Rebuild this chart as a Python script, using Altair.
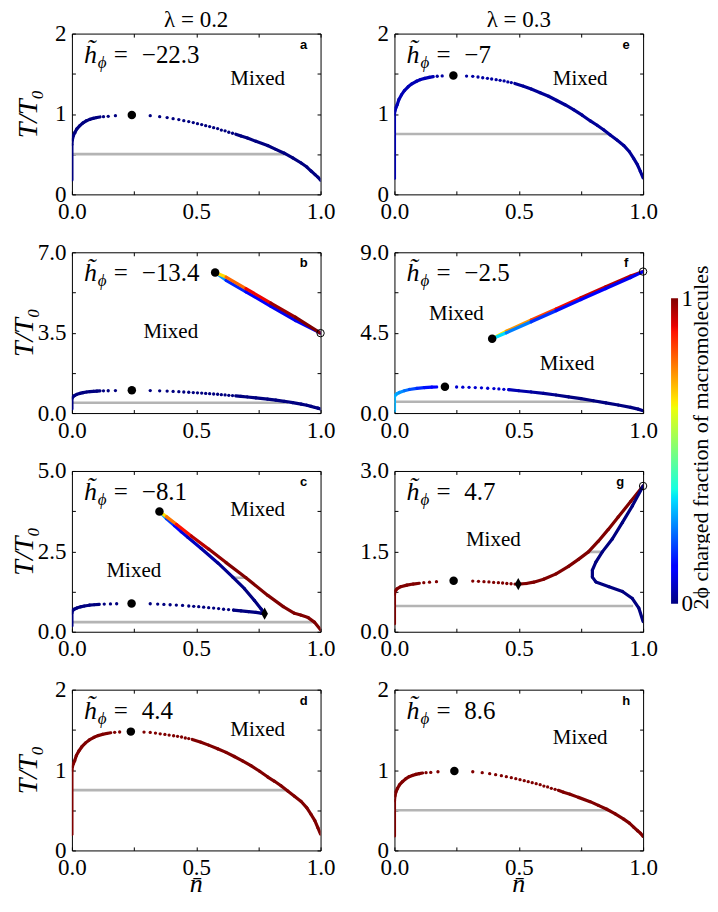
import json
import altair as alt
import pandas as pd

SERIF = "Liberation Serif, DejaVu Serif, serif"
SANS = "Liberation Sans, DejaVu Sans, sans-serif"

# ---------------- tick values ----------------
X_TICKS = [0.0, 0.25, 0.5, 0.75, 1.0]
X_LABELED = [0.0, 0.5, 1.0]
Y2_TICKS = [0.0, 0.5, 1.0, 1.5, 2.0]
Y2_LABELED = [0.0, 1.0, 2.0]
Y7_TICKS = [0.0, 1.75, 3.5, 5.25, 7.0]
Y7_LABELED = [0.0, 3.5, 7.0]
Y5_TICKS = [0.0, 1.25, 2.5, 3.75, 5.0]
Y5_LABELED = [0.0, 2.5, 5.0]
Y9_TICKS = [0.0, 2.25, 4.5, 6.75, 9.0]
Y9_LABELED = [0.0, 4.5, 9.0]
Y3_TICKS = [0.0, 0.75, 1.5, 2.25, 3.0]
Y3_LABELED = [0.0, 1.5, 3.0]

# ---------------- jet colour map ----------------
JET_POS = [0.0, 0.11, 0.125, 0.34, 0.35, 0.375, 0.64, 0.65, 0.66, 0.89, 0.91, 1.0]
JET_HEX = ["#000080", "#0000ff", "#0000ff", "#00dbff", "#00e6f7", "#15ffe2",
           "#eeff08", "#f7f500", "#ffec00", "#ff1300", "#e80000", "#800000"]

# ---------------- curve A (panels a, b, h) ----------------
A_L_N = [0.0, 0.0, 0.002, 0.006, 0.012, 0.02, 0.032, 0.045, 0.059, 0.072, 0.086, 0.1, 0.113]
A_L_T = [0.18, 0.62, 0.68, 0.73, 0.77, 0.815, 0.855, 0.89, 0.917, 0.933, 0.946, 0.956, 0.963]
A_DOT_N = [0.127, 0.146, 0.175, 0.315, 0.353, 0.383, 0.407, 0.43, 0.45, 0.47, 0.488, 0.505,
           0.522, 0.538, 0.554, 0.57, 0.586, 0.601, 0.616, 0.631, 0.646]
A_DOT_T = [0.967, 0.971, 0.979, 0.979, 0.967, 0.955, 0.942, 0.93, 0.917, 0.905, 0.893, 0.88,
           0.868, 0.855, 0.843, 0.83, 0.818, 0.80, 0.79, 0.773, 0.76]
A_R_N = [0.659, 0.68, 0.706, 0.74, 0.787, 0.82, 0.854, 0.888, 0.922, 0.945, 0.962, 0.978, 0.989, 1.0]
A_R_T = [0.748, 0.725, 0.70, 0.66, 0.607, 0.56, 0.512, 0.455, 0.39, 0.34, 0.29, 0.245, 0.215, 0.175]
A_CRIT = (0.241, 0.988)

# ---------------- curve D (panels d, e) ----------------
D_L_N = [0.0, 0.0, 0.002, 0.006, 0.011, 0.018, 0.028, 0.04, 0.055, 0.07, 0.089, 0.105, 0.122, 0.14, 0.156]
D_L_T = [0.2, 1.0, 1.04, 1.08, 1.115, 1.18, 1.237, 1.29, 1.338, 1.375, 1.407, 1.428, 1.443, 1.455, 1.464]
D_DOT_N = [0.172, 0.192, 0.29, 0.315, 0.336, 0.355, 0.374, 0.391, 0.409, 0.425, 0.441, 0.456, 0.47]
D_DOT_T = [1.469, 1.473, 1.472, 1.468, 1.46, 1.451, 1.443, 1.435, 1.427, 1.419, 1.411, 1.399, 1.391]
D_R_N = [0.484, 0.519, 0.55, 0.586, 0.62, 0.653, 0.686, 0.72, 0.755, 0.788, 0.815, 0.841, 0.868,
         0.895, 0.922, 0.945, 0.962, 0.977, 0.989, 1.0]
D_R_T = [1.38, 1.346, 1.31, 1.265, 1.22, 1.168, 1.115, 1.055, 0.985, 0.913, 0.86, 0.804, 0.739,
         0.675, 0.609, 0.53, 0.447, 0.37, 0.285, 0.204]
D_CRIT = (0.237, 1.478)

# ---------------- panel b extra branch ----------------
B_BLUE_N = [0.576, 0.62, 0.7, 0.8, 0.9, 1.0]
B_BLUE_T = [6.12, 5.78, 5.28, 4.65, 4.03, 3.48]
B_BLUE_C = [0.35, 0.2, 0.12, 0.1, 0.1, 0.1]
B_RED_N = [0.576, 0.62, 0.7, 0.8, 0.9, 1.0]
B_RED_T = [6.12, 5.92, 5.42, 4.79, 4.17, 3.48]
B_RED_C = [0.62, 0.74, 0.86, 0.95, 1.0, 1.0]
B_CRIT = (0.576, 6.12)
B_OPEN = (1.0, 3.48)

# ---------------- panel c ----------------
C_L_N = [0.0, 0.0, 0.003, 0.009, 0.02, 0.035, 0.05, 0.07, 0.09, 0.11]
C_L_T = [0.19, 0.58, 0.66, 0.70, 0.74, 0.775, 0.80, 0.825, 0.84, 0.85]
C_DOT_N = [0.13, 0.155, 0.18, 0.315, 0.345, 0.37, 0.395, 0.42, 0.445, 0.47, 0.49, 0.51, 0.53,
           0.55, 0.57, 0.59, 0.61, 0.63, 0.65]
C_DOT_T = [0.86, 0.865, 0.87, 0.87, 0.86, 0.85, 0.84, 0.83, 0.82, 0.80, 0.79, 0.78, 0.765,
           0.75, 0.735, 0.72, 0.70, 0.69, 0.675]
C_R_N = [0.65, 0.68, 0.71, 0.74, 0.76, 0.775]
C_R_T = [0.675, 0.65, 0.625, 0.60, 0.58, 0.56]
C_CRIT = (0.24, 0.88)
C_DIAM = (0.775, 0.56)
C_BLUE_N = [0.352, 0.38, 0.412, 0.44, 0.466, 0.52, 0.587, 0.647, 0.694, 0.734, 0.761, 0.775]
C_BLUE_T = [3.74, 3.52, 3.30, 3.11, 2.94, 2.59, 2.14, 1.70, 1.34, 0.97, 0.71, 0.56]
C_BLUE_C = [0.32, 0.22, 0.14, 0.1, 0.07, 0.04, 0.02, 0.01, 0.0, 0.0, 0.0, 0.0]
C_RED_N = [0.352, 0.38, 0.42, 0.48, 0.55, 0.62, 0.70, 0.788, 0.85, 0.895, 0.92, 0.95, 0.975, 1.0]
C_RED_T = [3.74, 3.58, 3.34, 2.98, 2.57, 2.15, 1.68, 1.13, 0.78, 0.575, 0.52, 0.44, 0.30, 0.06]
C_RED_C = [0.62, 0.72, 0.85, 0.93, 0.97, 1.0, 1.0, 1.0, 1.0, 1.0, 1.0, 1.0, 1.0, 1.0]
C_CRIT2 = (0.352, 3.74)

# ---------------- panel f ----------------
F_L_N = [0.0, 0.0, 0.003, 0.01, 0.02, 0.04, 0.06, 0.09, 0.12, 0.15, 0.17]
F_L_T = [0.12, 0.9, 1.0, 1.08, 1.15, 1.25, 1.32, 1.38, 1.42, 1.45, 1.46]
F_L_C = [0.3, 0.3, 0.3, 0.29, 0.28, 0.25, 0.22, 0.18, 0.15, 0.13, 0.12]
F_DOT_N = [0.25, 0.275, 0.3, 0.325, 0.35, 0.375, 0.4, 0.42, 0.44, 0.46]
F_DOT_T = [1.46, 1.45, 1.44, 1.425, 1.41, 1.39, 1.37, 1.35, 1.33, 1.31]
F_R_N = [0.46, 0.5, 0.55, 0.6, 0.65, 0.7, 0.75, 0.8, 0.85, 0.9, 0.95, 0.98, 1.0]
F_R_T = [1.31, 1.25, 1.18, 1.10, 1.01, 0.91, 0.81, 0.69, 0.57, 0.45, 0.32, 0.22, 0.13]
F_R_C = [0.05, 0.04, 0.03, 0.02, 0.01, 0.0, 0.0, 0.0, 0.0, 0.0, 0.0, 0.0, 0.0]
F_CRIT = (0.203, 1.47)
F_TOP_N = [0.393, 0.45, 0.55, 0.65, 0.75, 0.85, 0.95, 1.0]
F_RED_T = [4.16, 4.58, 5.21, 5.83, 6.45, 7.07, 7.67, 7.92]
F_RED_C = [0.62, 0.7, 0.8, 0.88, 0.92, 0.95, 0.95, 0.95]
F_BLUE_T = [4.16, 4.49, 5.11, 5.73, 6.35, 6.97, 7.59, 7.92]
F_BLUE_C = [0.38, 0.3, 0.2, 0.15, 0.12, 0.1, 0.1, 0.1]
F_CRIT2 = (0.393, 4.16)
F_OPEN = (1.0, 7.92)

# ---------------- panel g ----------------
G_L_N = [0.0, 0.0, 0.003, 0.01, 0.025, 0.05, 0.075, 0.1]
G_L_T = [0.15, 0.7, 0.76, 0.80, 0.84, 0.87, 0.89, 0.905]
G_DOT_N = [0.118, 0.141, 0.169, 0.315, 0.338, 0.36, 0.38, 0.399, 0.418, 0.435, 0.452, 0.469, 0.485]
G_DOT_T = [0.915, 0.925, 0.935, 0.945, 0.94, 0.935, 0.93, 0.92, 0.915, 0.91, 0.90, 0.895, 0.89]
G_R_N = [0.498, 0.53, 0.56, 0.6, 0.65, 0.7, 0.74, 0.78, 0.82, 0.86, 0.9, 0.95, 1.0]
G_R_T = [0.89, 0.90, 0.925, 0.98, 1.08, 1.22, 1.35, 1.49, 1.69, 1.91, 2.14, 2.43, 2.72]
G_B_N = [1.0, 0.957, 0.917, 0.876, 0.836, 0.81, 0.796, 0.796, 0.81, 0.863, 0.917, 0.957, 0.983, 1.0]
G_B_T = [2.72, 2.35, 2.04, 1.73, 1.49, 1.30, 1.15, 1.02, 0.93, 0.84, 0.75, 0.62, 0.44, 0.19]
G_CRIT = (0.238, 0.95)
G_DIAM = (0.498, 0.89)
G_OPEN = (1.0, 2.72)

# ---------------- tie lines (n from, n to, T) ----------------
GRAY_A = [(0.0, 0.861, 0.5)]
GRAY_B = [(0.0, 0.87, 0.45)]
GRAY_C = [(0.0, 0.975, 0.3), (0.647, 0.705, 1.68)]
GRAY_D = [(0.0, 0.862, 0.75)]
GRAY_F = [(0.0, 0.83, 0.63)]
GRAY_G = [(0.0, 0.96, 0.48), (0.78, 0.83, 1.49)]

# ---------------- texts ----------------
H_VALUES = {"a": "\u221222.3", "b": "\u221213.4", "c": "\u22128.1", "d": "4.4",
            "e": "\u22127", "f": "\u22122.5", "g": "4.7", "h": "8.6"}
CB_TITLE = "2\u03d5 charged fraction of macromolecules"
Y_TITLE = "T/T\u2080"
X_TITLE = "n\u0304"

# ---------------- layout / style ----------------
W, H = 249, 161
TICK = 3.5
LABSIZE = 23
GRAY = "#b4b4b4"
CURVE_W = 3.2
MIXED_POS = {"a": [(186, 45)], "b": [(99, 80)], "c": [(186, 39), (62, 100)], "d": [(186, 40)],
             "e": [(186, 45)], "f": [(62, 62), (173, 112)], "g": [(99, 69)], "h": [(186, 48)]}
LETTER_X = {"a": 232, "b": 232, "c": 232, "d": 232, "e": 232, "f": 232, "g": 226, "h": 232}

CSCALE = alt.Scale(type="linear", domain=JET_POS, range=JET_HEX, interpolate="rgb")
DIAMOND = "M0,-1L0.55,0L0,1L-0.55,0Z"
ONE = pd.DataFrame({"k": [0]})


def lab_expr(vals, fmt):
    return "indexof(%s, datum.value) >= 0 ? format(datum.value, '%s') : ''" % (json.dumps(vals), fmt)


def seg_rows(ns, ts, cs):
    if not isinstance(cs, (list, tuple)):
        cs = [cs] * len(ns)
    rows = []
    for i in range(len(ns) - 1):
        rows.append({"n": ns[i], "n2": ns[i + 1], "T": ts[i], "T2": ts[i + 1],
                     "c": (cs[i] + cs[i + 1]) / 2.0})
    return rows


def dot_rows(ns, ts, c):
    return [{"n": a, "T": b, "c": c} for a, b in zip(ns, ts)]


def txt(text, x, y, size, font=SERIF, style="normal", weight="normal", align="left",
        baseline="alphabetic", angle=0):
    return alt.Chart(ONE).mark_text(text=text, font=font, fontSize=size, fontStyle=style,
                                    fontWeight=weight, align=align, baseline=baseline, angle=angle,
                                    color="black").encode(x=alt.value(x), y=alt.value(y))


def make_panel(key, p):
    xs = alt.Scale(domain=[0, 1], nice=False, zero=False)
    ys = alt.Scale(domain=p["ydom"], nice=False, zero=False)

    ax_bottom = alt.Axis(orient="bottom", values=X_TICKS, labelExpr=lab_expr(X_LABELED, ".1f"),
                         tickSize=TICK, offset=-TICK, domain=False, grid=False, labelPadding=6,
                         labelOverlap=False, labelFlush=False, title=None)
    ax_left = alt.Axis(orient="left", values=p["yticks"], labelExpr=lab_expr(p["ylab"], p["yfmt"]),
                       tickSize=TICK, offset=-TICK, domain=False, grid=False, labelPadding=6,
                       labelOverlap=False, labelFlush=False, title=None)
    ax_top = alt.Axis(orient="top", values=X_TICKS, labels=False, tickSize=TICK, offset=-TICK,
                      domain=False, grid=False, title=None)
    ax_right = alt.Axis(orient="right", values=p["yticks"], labels=False, tickSize=TICK,
                        offset=-TICK, domain=False, grid=False, title=None)

    layers = []
    gray_df = pd.DataFrame(p["gray"], columns=["n1", "n2", "T"])
    layers.append(alt.Chart(gray_df).mark_rule(color=GRAY, strokeWidth=2.6, clip=True).encode(
        x=alt.X("n1:Q", scale=xs, axis=ax_bottom), x2="n2:Q",
        y=alt.Y("T:Q", scale=ys, axis=ax_left)))

    rows = []
    for ns, ts, cs in p["curves"]:
        rows += seg_rows(ns, ts, cs)
    layers.append(alt.Chart(pd.DataFrame(rows)).mark_rule(strokeWidth=CURVE_W, strokeCap="round", clip=True).encode(
        x=alt.X("n:Q", scale=xs, axis=ax_top), x2="n2:Q",
        y=alt.Y("T:Q", scale=ys, axis=ax_right), y2="T2:Q",
        color=alt.Color("c:Q", scale=CSCALE, legend=None)))

    drows = []
    for ns, ts, c in p["dots"]:
        drows += dot_rows(ns, ts, c)
    layers.append(alt.Chart(pd.DataFrame(drows)).mark_circle(size=11, opacity=1, clip=True).encode(
        x=alt.X("n:Q", scale=xs, axis=None), y=alt.Y("T:Q", scale=ys, axis=None),
        color=alt.Color("c:Q", scale=CSCALE, legend=None)))

    crit_df = pd.DataFrame(p["crit"], columns=["n", "T"])
    layers.append(alt.Chart(crit_df).mark_circle(size=72, opacity=1, color="black").encode(
        x=alt.X("n:Q", scale=xs, axis=None), y=alt.Y("T:Q", scale=ys, axis=None)))
    if p.get("diam"):
        layers.append(alt.Chart(pd.DataFrame(p["diam"], columns=["n", "T"])).mark_point(
            shape=DIAMOND, size=150, filled=True, opacity=1, color="black").encode(
            x=alt.X("n:Q", scale=xs, axis=None), y=alt.Y("T:Q", scale=ys, axis=None)))
    if p.get("open"):
        layers.append(alt.Chart(pd.DataFrame(p["open"], columns=["n", "T"])).mark_point(
            shape="circle", size=55, filled=False, opacity=1, color="black", strokeWidth=1).encode(
            x=alt.X("n:Q", scale=xs, axis=None), y=alt.Y("T:Q", scale=ys, axis=None)))

    # annotations
    for (mx, my) in MIXED_POS[key]:
        layers.append(txt("Mixed", mx, my, 21, align="center", baseline="middle"))
    layers.append(txt("h\u0303", 12, 29, 26, style="italic"))
    layers.append(txt("\u03d5", 26, 34, 17, style="italic"))
    layers.append(txt("=", 42, 29, 25))
    layers.append(txt(H_VALUES[key], 70, 29, 25))
    layers.append(txt(key, LETTER_X[key], 11, 13, font=SANS, weight="bold", align="center", baseline="middle"))
    if p.get("title"):
        layers.append(txt(p["title"], W / 2, -7, 23, align="center"))
    if p.get("ytitle") is not None:
        layers.append(txt(Y_TITLE, p["ytitle"], H / 2, 28, style="italic", align="center",
                          baseline="middle", angle=270))
    if p.get("xtitle"):
        layers.append(txt(X_TITLE, W / 2, 195, 26, style="italic", align="center", baseline="middle"))

    ch = alt.layer(*layers).resolve_axis(x="independent", y="independent")
    return ch.properties(width=W, height=H)


PANELS = {
    "a": dict(ydom=[0, 2], yticks=Y2_TICKS, ylab=Y2_LABELED, yfmt=".0f", gray=GRAY_A,
              curves=[(A_L_N, A_L_T, 0.0), (A_R_N, A_R_T, 0.0)], dots=[(A_DOT_N, A_DOT_T, 0.0)],
              crit=[A_CRIT], title="\u03bb = 0.2", ytitle=-43),
    "b": dict(ydom=[0, 7], yticks=Y7_TICKS, ylab=Y7_LABELED, yfmt=".1f", gray=GRAY_B,
              curves=[(A_L_N, A_L_T, 0.0), (A_R_N, A_R_T, 0.0), (B_BLUE_N, B_BLUE_T, B_BLUE_C),
                      (B_RED_N, B_RED_T, B_RED_C)],
              dots=[(A_DOT_N, A_DOT_T, 0.0)], crit=[A_CRIT, B_CRIT], open=[B_OPEN], ytitle=-47),
    "c": dict(ydom=[0, 5], yticks=Y5_TICKS, ylab=Y5_LABELED, yfmt=".1f", gray=GRAY_C,
              curves=[(C_L_N, C_L_T, 0.0), (C_R_N, C_R_T, 0.0), (C_BLUE_N, C_BLUE_T, C_BLUE_C),
                      (C_RED_N, C_RED_T, C_RED_C)],
              dots=[(C_DOT_N, C_DOT_T, 0.0)], crit=[C_CRIT, C_CRIT2], diam=[C_DIAM], ytitle=-47),
    "d": dict(ydom=[0, 2], yticks=Y2_TICKS, ylab=Y2_LABELED, yfmt=".0f", gray=GRAY_D,
              curves=[(D_L_N, D_L_T, 1.0), (D_R_N, D_R_T, 1.0)], dots=[(D_DOT_N, D_DOT_T, 1.0)],
              crit=[D_CRIT], ytitle=-43, xtitle=True),
    "e": dict(ydom=[0, 2], yticks=Y2_TICKS, ylab=Y2_LABELED, yfmt=".0f", gray=GRAY_D,
              curves=[(D_L_N, D_L_T, 0.045), (D_R_N, D_R_T, 0.02)], dots=[(D_DOT_N, D_DOT_T, 0.03)],
              crit=[D_CRIT], title="\u03bb = 0.3"),
    "f": dict(ydom=[0, 9], yticks=Y9_TICKS, ylab=Y9_LABELED, yfmt=".1f", gray=GRAY_F,
              curves=[(F_L_N, F_L_T, F_L_C), (F_R_N, F_R_T, F_R_C), (F_TOP_N, F_RED_T, F_RED_C),
                      (F_TOP_N, F_BLUE_T, F_BLUE_C)],
              dots=[(F_DOT_N, F_DOT_T, 0.07)], crit=[F_CRIT, F_CRIT2], open=[F_OPEN]),
    "g": dict(ydom=[0, 3], yticks=Y3_TICKS, ylab=Y3_LABELED, yfmt=".1f", gray=GRAY_G,
              curves=[(G_L_N, G_L_T, 1.0), (G_R_N, G_R_T, 1.0), (G_B_N, G_B_T, 0.0)],
              dots=[(G_DOT_N, G_DOT_T, 1.0)], crit=[G_CRIT], diam=[G_DIAM], open=[G_OPEN]),
    "h": dict(ydom=[0, 2], yticks=Y2_TICKS, ylab=Y2_LABELED, yfmt=".0f", gray=GRAY_A,
              curves=[(A_L_N, A_L_T, 1.0), (A_R_N, A_R_T, 1.0)], dots=[(A_DOT_N, A_DOT_T, 1.0)],
              crit=[A_CRIT], xtitle=True),
}

order = ["a", "e", "b", "f", "c", "g", "d", "h"]
grid = alt.concat(*[make_panel(k, PANELS[k]) for k in order], columns=2,
                  spacing={"row": 58, "column": 74}, bounds="flush")

# ---------------- colour bar ----------------
CB_W, CB_H = 7, 600
CB_TOP, CB_BOT = 265, 571
grad = alt.Gradient(gradient="linear",
                    stops=[alt.GradientStop(offset=p, color=c) for p, c in zip(JET_POS, JET_HEX)],
                    x1=0, x2=0, y1=1, y2=0)
cb = alt.Chart(pd.DataFrame({"lo": [0.0], "hi": [1.0]})).mark_rect(fill=grad).encode(
    x=alt.value(0), x2=alt.value(CB_W),
    y=alt.Y("lo:Q", scale=alt.Scale(domain=[0, 1], range=[CB_BOT, CB_TOP]),
            axis=alt.Axis(orient="right", values=[0, 1], format="d", ticks=False, domain=False,
                          grid=False, labelPadding=3, labelFontSize=23, labelFlush=False,
                          title=CB_TITLE, titleFont=SERIF, titleFontSize=22, titleFontWeight="normal",
                          titleAngle=270, titleX=22, titleY=404, titleAlign="center",
                          titleBaseline="middle")),
    y2="hi:Q").properties(width=CB_W, height=CB_H, view=alt.ViewBackground(strokeOpacity=0))

chart = alt.hconcat(grid, cb, spacing=13).properties(
    padding={"left": 2, "top": -1, "right": -1, "bottom": -6}
).configure_view(stroke="black", strokeWidth=1).configure_axis(
    labelFont=SERIF, labelFontSize=LABSIZE, labelColor="black", tickColor="black", tickWidth=1,
    titleColor="black"
)

chart.save("out.html", embed_options={"renderer": "svg", "actions": False})
